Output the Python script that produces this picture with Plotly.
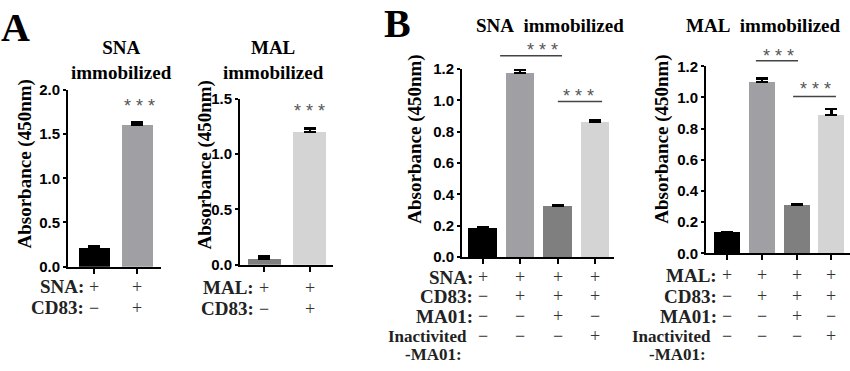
import plotly.graph_objects as go

W, H = 850, 371

# ---------------- data ----------------
a1_values = [0.215, 1.61]
a1_errors = [0.015, 0.03]
a2_values = [0.055, 1.20]
a2_errors = [0.02, 0.03]
b1_values = [0.185, 1.175, 0.328, 0.865]
b1_errors = [0.004, 0.018, 0.006, 0.006]
b2_values = [0.135, 1.10, 0.31, 0.886]
b2_errors = [0.003, 0.02, 0.006, 0.04]

a_colors = ["#000000", "#9f9fa4"]
a2_colors = ["#7f7f7f", "#d4d4d4"]
b_colors = ["#000000", "#9f9fa4", "#7f7f7f", "#d4d4d4"]

a1_ticks = [0.0, 0.5, 1.0, 1.5, 2.0]
a2_ticks = [0.0, 0.5, 1.0, 1.5]
b_ticks = [0.0, 0.2, 0.4, 0.6, 0.8, 1.0, 1.2]

a1_rows = ["SNA:", "CD83:"]
a2_rows = ["MAL:", "CD83:"]
b1_rows = ["SNA:", "CD83:", "MA01:", "Inactivited"]
b2_rows = ["MAL:", "CD83:", "MA01:", "Inactivited"]
b_row_extra = "-MA01:"
a_signs = [["+", "+"], ["\u2212", "+"]]
b_signs = [["+", "+", "+", "+"],
           ["\u2212", "+", "+", "+"],
           ["\u2212", "\u2212", "+", "\u2212"],
           ["\u2212", "\u2212", "\u2212", "+"]]

y_title = "Absorbance (450nm)"
stars = "* * *"
# significance brackets: (x0, x1, y_line, x_star, y_star)
b1_sig = [(0.47, 2.12, 1.285, 1.59, 1.35), (2.01, 3.19, 0.993, 2.57, 1.06)]
b2_sig = [(0.83, 2.04, 1.236, 1.47, 1.295), (1.90, 3.13, 1.006, 2.53, 1.08)]
a1_star = (1.05, 1.87)
a2_star = (1.0, 1.43)

# ---------------- layout helpers ----------------
def px(x):
    return x / W

def py(y):
    return 1 - y / H

SERIF = "Liberation Serif, Times New Roman, serif"
SANS = "Liberation Sans, Arial, sans-serif"
STAR_SHIFT = -4.5  # asterisk glyph sits high in its text box

fig = go.Figure()

panels = [
    # name, values, errors, colors, xdom(px), ydom(px top,bottom), xrange, yrange, ticks, barwidth
    ("1", a1_values, a1_errors, a_colors, (68, 161), (85, 270), (-0.616, 1.547), (0, 2.0), a1_ticks, 0.72),
    ("2", a2_values, a2_errors, a2_colors, (240, 333), (94, 268), (-0.533, 1.511), (0, 1.5), a2_ticks, 0.73),
    ("3", b1_values, b1_errors, b_colors, (462, 614), (63, 260), (-0.547, 3.507), (0, 1.2), b_ticks, 0.76),
    ("4", b2_values, b2_errors, b_colors, (706, 850), (60, 256), (-0.603, 3.534), (0, 1.2), b_ticks, 0.75),
]
panel_geom = {}

layout_axes = {}
for name, vals, errs, cols, xd, yd, xr, yr, ticks, bw in panels:
    xa = "x" if name == "1" else "x" + name
    ya = "y" if name == "1" else "y" + name
    panel_geom[ya] = (py(yd[1]), py(yd[0]), yr[0], yr[1])
    fig.add_trace(go.Bar(
        x=list(range(len(vals))), y=vals, width=bw,
        marker=dict(color=cols, line=dict(width=0)),
        error_y=dict(type="data", symmetric=False, array=errs,
                     arrayminus=[0] * len(errs), color="black",
                     thickness=2.5, width=6),
        xaxis=xa, yaxis=ya, showlegend=False, hoverinfo="skip",
    ))
    xkey = "xaxis" if name == "1" else "xaxis" + name
    ykey = "yaxis" if name == "1" else "yaxis" + name
    layout_axes[xkey] = dict(
        domain=[px(xd[0]), px(xd[1])], range=list(xr), anchor=ya,
        showgrid=False, zeroline=False, showline=True, linecolor="black",
        linewidth=2, ticks="outside", ticklen=5, tickwidth=2, tickcolor="black",
        tickvals=list(range(len(vals))), showticklabels=False, fixedrange=True,
    )
    layout_axes[ykey] = dict(
        domain=[py(yd[1]), py(yd[0])], range=list(yr), anchor=xa,
        showgrid=False, zeroline=False, showline=True, linecolor="black",
        linewidth=2, ticks="outside", ticklen=3, tickwidth=2, tickcolor="black",
        tickvals=ticks, tickformat=".1f",
        tickfont=dict(family=SANS, size=15, color="black", weight="bold"),
        fixedrange=True,
    )

fig.update_layout(**layout_axes)


def yval_to_paper(yaxis, v):
    # map a data value through the axis scale to paper coordinates
    p0, p1, r0, r1 = panel_geom[yaxis]
    return p0 + (v - r0) / (r1 - r0) * (p1 - p0)


ann = []
shapes = []


def text(x, y, t, size=18, family=SERIF, weight="bold", xanchor="center",
         xref="paper", yref="paper", color="black", angle=0, yanchor="middle",
         yshift=0):
    ann.append(dict(x=x, y=y, text=t, xref=xref, yref=yref, showarrow=False,
                    xanchor=xanchor, yanchor=yanchor, textangle=angle,
                    yshift=yshift,
                    font=dict(family=family, size=size, color=color, weight=weight)))


# panel letters
text(px(16), py(19), "A", size=40)
text(px(397), py(15), "B", size=40)

# titles
text(px(121), py(53), "SNA<br>immobilized", size=19)
text(px(273), py(53), "MAL<br>immobilized", size=19)
text(px(550), py(17), "SNA\u00a0\u00a0immobilized", size=19)
text(px(763), py(17), "MAL\u00a0\u00a0immobilized", size=19)

# y titles
text(px(25), py(163), y_title, size=19, angle=-90)
text(px(205), py(164), y_title, size=19, angle=-90)
text(px(415), py(137), y_title, size=19, angle=-90)
text(px(662), py(137), y_title, size=19, angle=-90)

# stars A
text(a1_star[0], a1_star[1], stars, size=18, family=SANS, weight="normal",
     xref="x", yref="y", color="#555555", yshift=STAR_SHIFT)
text(a2_star[0], a2_star[1], stars, size=18, family=SANS, weight="normal",
     xref="x2", yref="y2", color="#555555", yshift=STAR_SHIFT)

# significance B
for sig, xr_, yr_ in ((b1_sig, "x3", "y3"), (b2_sig, "x4", "y4")):
    for x0, x1, yl, xs, ys in sig:
        yp = yval_to_paper(yr_, yl)
        shapes.append(dict(type="line", xref=xr_, yref="paper", x0=x0, x1=x1,
                           y0=yp, y1=yp, line=dict(color="#444444", width=1.5)))
        text(xs, yval_to_paper(yr_, ys), stars, size=18, family=SANS,
             weight="normal", xref=xr_, yref="paper", color="#555555",
             yshift=STAR_SHIFT)


# condition rows
def rows(labels, signs, ypx, xref, extra=None, extra_y=None):
    for i, (lab, row) in enumerate(zip(labels, signs)):
        last = lab == "Inactivited"
        ann.append(dict(x=0, y=py(ypx[i]), xref=xref, yref="paper", text=lab,
                        showarrow=False, xanchor="right", yanchor="middle",
                        xshift=-14 if last else -8,
                        font=dict(family=SERIF, size=17 if last else 19,
                                  color="#222222", weight="bold")))
        for j, s in enumerate(row):
            ann.append(dict(x=j, y=py(ypx[i]), xref=xref, yref="paper", text=s,
                            showarrow=False, xanchor="center", yanchor="middle",
                            font=dict(family=SERIF, size=18, color="#333333")))
    if extra:
        ann.append(dict(x=0, y=py(extra_y), xref=xref, yref="paper", text=extra,
                        showarrow=False, xanchor="right", yanchor="middle",
                        xshift=-19,
                        font=dict(family=SERIF, size=17, color="#222222", weight="bold")))


rows(a1_rows, a_signs, [291, 313], "x")
rows(a2_rows, a_signs, [292, 314], "x2")
rows(b1_rows, b_signs, [281, 301, 322, 343], "x3", b_row_extra, 362)
rows(b2_rows, b_signs, [279, 301, 322, 343], "x4", b_row_extra, 362)

fig.update_layout(
    width=W, height=H, margin=dict(l=0, r=0, t=0, b=0),
    paper_bgcolor="white", plot_bgcolor="white",
    annotations=ann, shapes=shapes, bargap=0,
)

fig.write_html("out.html",
               config={"displayModeBar": False, "staticPlot": True},
               post_script="document.body.style.margin='0';")
